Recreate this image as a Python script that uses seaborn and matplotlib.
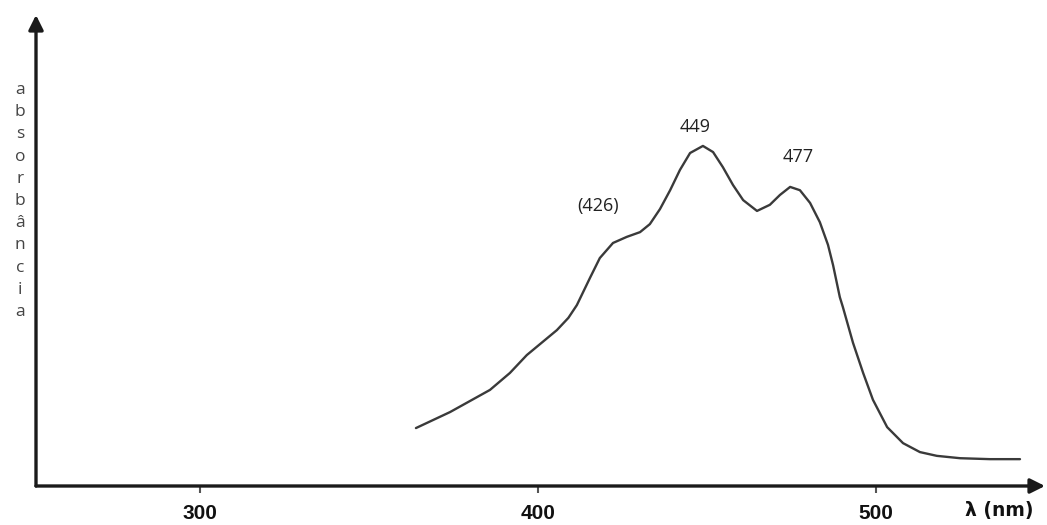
import matplotlib
matplotlib.use("Agg")
import matplotlib.pyplot as plt
import seaborn as sns
import pandas as pd

# ---- data ----
wavelength = [363.9, 374.0, 385.8, 391.7, 396.7, 405.6, 409.0, 411.5, 415.4, 418.3,
              422.2, 426.3, 430.2, 433.1, 436.1, 439.1, 442.0, 445.0, 448.8, 451.8,
              454.7, 457.7, 460.7, 464.8, 468.6, 471.6, 474.6, 477.5, 480.5, 483.4,
              485.8, 487.3, 489.3, 490.2, 493.2, 496.2, 499.1, 503.3, 508.0, 513.0,
              518.0, 524.9, 533.7, 542.6]
absorbance = [0.123, 0.157, 0.204, 0.240, 0.278, 0.331, 0.357, 0.384, 0.442, 0.484,
              0.516, 0.529, 0.539, 0.556, 0.588, 0.628, 0.671, 0.707, 0.722, 0.709,
              0.677, 0.639, 0.607, 0.584, 0.597, 0.618, 0.635, 0.628, 0.601, 0.560,
              0.512, 0.469, 0.401, 0.380, 0.304, 0.240, 0.183, 0.125, 0.091, 0.072,
              0.064, 0.059, 0.057, 0.057]
tick_values = [300, 400, 500]
tick_labels = ["300", "400", "500"]
peak_labels = ["(426)", "449", "477"]
peak_label_x = [417.8, 446.4, 476.9]
peak_label_y = [0.594, 0.762, 0.698]
ylabel_letters = list("absorbância")
xlabel_text = "λ (nm)"

df = pd.DataFrame({"wavelength": wavelength, "absorbance": absorbance})

sns.set_theme(style="white")
plt.rcParams["font.family"] = ["Liberation Sans", "DejaVu Sans"]

fig = plt.figure(figsize=(10.47, 5.25), dpi=100)
ax = fig.add_axes([36 / 1047, 39 / 525, 1009 / 1047, 471 / 525])

sns.lineplot(data=df, x="wavelength", y="absorbance", ax=ax,
             color="#3a3a3a", linewidth=1.7)

ax.set_xlim(251.5, 550.0)
ax.set_ylim(0, 1)

for s in ax.spines.values():
    s.set_visible(False)

ax.set_xticks(tick_values)
ax.set_xticklabels(tick_labels, fontsize=15, fontweight="bold", color="#111111")
ax.set_yticks([])
ax.tick_params(axis="x", direction="out", length=5, width=1.5, color="#555555",
               pad=8, bottom=True)
ax.set_xlabel("")
ax.set_ylabel("")

# axes arrows
arrow_kw = dict(arrowstyle="-|>", lw=2.4, color="#1a1a1a", mutation_scale=22,
                shrinkA=0, shrinkB=0)
ax.annotate("", xy=(0, 1.0), xytext=(0, 0), xycoords="axes fraction",
            textcoords="axes fraction", arrowprops=arrow_kw, annotation_clip=False)
ax.annotate("", xy=(1.0, 0), xytext=(0, 0), xycoords="axes fraction",
            textcoords="axes fraction", arrowprops=arrow_kw, annotation_clip=False)

# peak labels
for txt, px, py in zip(peak_labels, peak_label_x, peak_label_y):
    ax.text(px, py, txt, ha="center", va="center", fontsize=13,
            color="#222222", family=["Open Sans", "DejaVu Sans"])

# x label
ax.text(536.5, -0.053, xlabel_text, transform=ax.get_xaxis_transform(),
        ha="center", va="center", fontsize=13.5, fontweight="bold",
        color="#111111", clip_on=False, family=["DejaVu Sans"])

# vertical stacked y label
for i, ch in enumerate(ylabel_letters):
    ypx = 90 + i * 22.2
    fig.text(20 / 1047, 1 - ypx / 525, ch, ha="center", va="center",
             fontsize=12.5, color="#444444", family=["Open Sans", "DejaVu Sans"])

fig.savefig("out.png", dpi=100, facecolor="white")
